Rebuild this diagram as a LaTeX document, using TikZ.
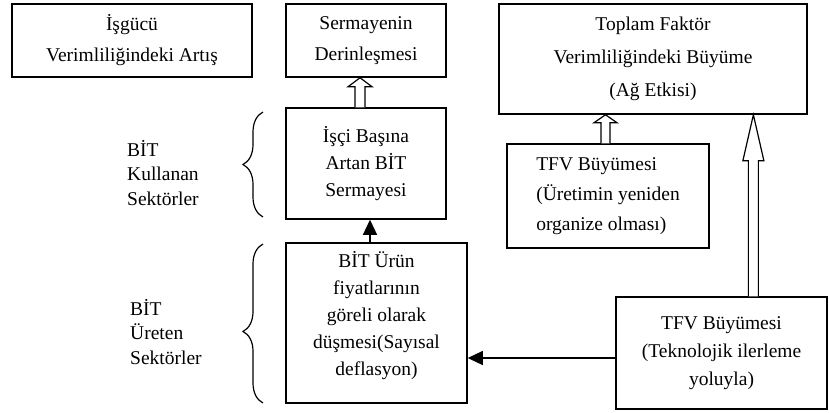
\documentclass[tikz,border=0pt]{standalone}
\usepackage{fontspec}
\setmainfont{Liberation Serif}
\usetikzlibrary{arrows.meta, positioning, calc, decorations.pathreplacing}

% block arrow pointing up: from, to, half shaft, half head, head length
\newcommand{\hollowup}[5]{%
  \draw[line width=1.2pt, fill=white] let \p1=(#1), \p2=(#2) in
    (\x1-#3,\y1) -- (\x1-#3,\y2-#5) -- (\x1-#4,\y2-#5) -- (\x1,\y2)
    -- (\x1+#4,\y2-#5) -- (\x1+#3,\y2-#5) -- (\x1+#3,\y1);
}

\begin{document}
\begin{tikzpicture}[
    x=1pt, y=-1pt,
    box/.style={rectangle, draw=black, line width=1.5pt, align=center, inner sep=2pt, font=\fontsize{19.5}{27}\selectfont},
    sidelabel/.style={anchor=west, align=left, inner sep=0pt, font=\fontsize{19.5}{24.5}\selectfont},
    brc/.style={decorate, decoration={brace, amplitude=20pt}, line width=1.2pt},
    link/.style={-{Triangle[length=15pt, width=14pt]}, line width=1.3pt}
  ]
  \useasboundingbox (0,0) rectangle (829,412);

  \node [box, minimum width=240pt, minimum height=73pt, font=\fontsize{19.5}{31}\selectfont] (labor) at (132,40.5) {İşgücü\\Verimliliğindeki Artış};
  \node [box, minimum width=160pt, minimum height=73pt, font=\fontsize{19.5}{31}\selectfont] (deep) at (366,40.5) {Sermayenin\\Derinleşmesi};
  \node [box, minimum width=160pt, minimum height=111pt] (capital) at (366,163.5) {İşçi Başına\\Artan BİT\\Sermayesi};
  \node [box, minimum width=181pt, minimum height=160pt, text depth=20pt] (prices) at (376.5,323) {BİT Ürün\\fiyatlarının\\göreli olarak\\düşmesi(Sayısal\\deflasyon)};
  \node [box, minimum width=308pt, minimum height=110pt, font=\fontsize{19.5}{33}\selectfont] (tfp) at (653,59) {Toplam Faktör\\Verimliliğindeki Büyüme\\(Ağ Etkisi)};
  \node [box, align=left, minimum width=202pt, minimum height=104pt, font=\fontsize{19.5}{30}\selectfont] (reorg) at (608,196) {TFV Büyümesi\\(Üretimin yeniden\\organize olması)};
  \node [box, minimum width=211pt, minimum height=112pt, font=\fontsize{19.5}{28}\selectfont] (tech) at (721.5,353) {TFV Büyümesi\\(Teknolojik ilerleme\\yoluyla)};

  \node [sidelabel] (users) at (127,173) {BİT\\Kullanan\\Sektörler};
  \node [sidelabel] (producers) at (130,332) {BİT\\Üreten\\Sektörler};

  % braces
  \draw [brc] (263,217) -- (263,112);
  \draw [brc, decoration={aspect=0.45}] (263,403) -- (263,244);

  % arrows
  \hollowup{$(capital.north)+(-6,0)$}{deep.south}{5pt}{12pt}{9pt}
  \hollowup{$(reorg.north)+(-2.5,0)$}{tfp.south}{4.5pt}{11.5pt}{8pt}
  \hollowup{$(tech.north west)!0.65!(tech.north east)$}{tfp.south}{5pt}{10.5pt}{46pt}

  \coordinate (up) at ($(capital.south)+(4,0)$);
  \draw [link] (up |- prices.north) -- (up);
  \coordinate (left) at ($(tech.west)+(0,5)$);
  \draw [link] (left) -- (left -| prices.east);
\end{tikzpicture}
\end{document}
